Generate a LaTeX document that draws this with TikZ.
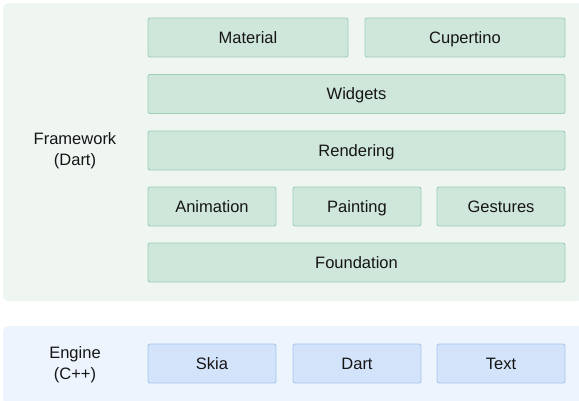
\documentclass[tikz,border=0pt]{standalone}
\usepackage{fontspec}
\setmainfont{Liberation Sans}
\usepackage{xcolor}
\definecolor{fwpanel}{HTML}{EFF6F2}
\definecolor{fwfill}{HTML}{CFE7DA}
\definecolor{fwline}{HTML}{9CCFB3}
\definecolor{enpanel}{HTML}{EEF4FD}
\definecolor{enfill}{HTML}{D3E4FA}
\definecolor{enline}{HTML}{A5C5EE}
\definecolor{ink}{HTML}{151515}
\begin{document}
\begin{tikzpicture}[x=1pt,y=-1pt,
	every node/.style={font=\fontsize{16.5}{21}\selectfont, text=ink},
	fwbox/.style={draw=fwline, fill=fwfill, rounded corners=2pt, line width=0.9pt, minimum height=39pt, text height=14pt, text depth=2.2pt},
	enbox/.style={draw=enline, fill=enfill, rounded corners=2pt, line width=0.9pt, minimum height=39pt, text height=14pt, text depth=2.2pt}]
	\useasboundingbox (0,0) rectangle (579,400);
	\fill[white] (0,0) rectangle (579,400);
	\fill[fwpanel, rounded corners=5pt] (3,3) rectangle (583,301);
	\fill[enpanel, rounded corners=5pt] (3,326) rectangle (583,404);
	\node[align=center] (framework) at (75,151) {Framework\\(Dart)};
	\node[align=center] (engine) at (75,365) {Engine\\(C++)};
	\node[fwbox, minimum width=200pt] (material) at (248,37.5) {Material};
	\node[fwbox, minimum width=200pt] (cupertino) at (465,37.5) {Cupertino};
	\node[fwbox, minimum width=417pt] (widgets) at (356.5,94) {Widgets};
	\node[fwbox, minimum width=417pt] (rendering) at (356.5,150.5) {Rendering};
	\node[fwbox, minimum width=128pt] (animation) at (212,206.5) {Animation};
	\node[fwbox, minimum width=128pt] (painting) at (357,206.5) {Painting};
	\node[fwbox, minimum width=128pt] (gestures) at (501,206.5) {Gestures};
	\node[fwbox, minimum width=417pt] (foundation) at (356.5,262.5) {Foundation};
	\node[enbox, minimum width=128pt] (skia) at (212,363.5) {Skia};
	\node[enbox, minimum width=128pt] (dart) at (357,363.5) {Dart};
	\node[enbox, minimum width=128pt] (text) at (501,363.5) {Text};
\end{tikzpicture}
\end{document}
